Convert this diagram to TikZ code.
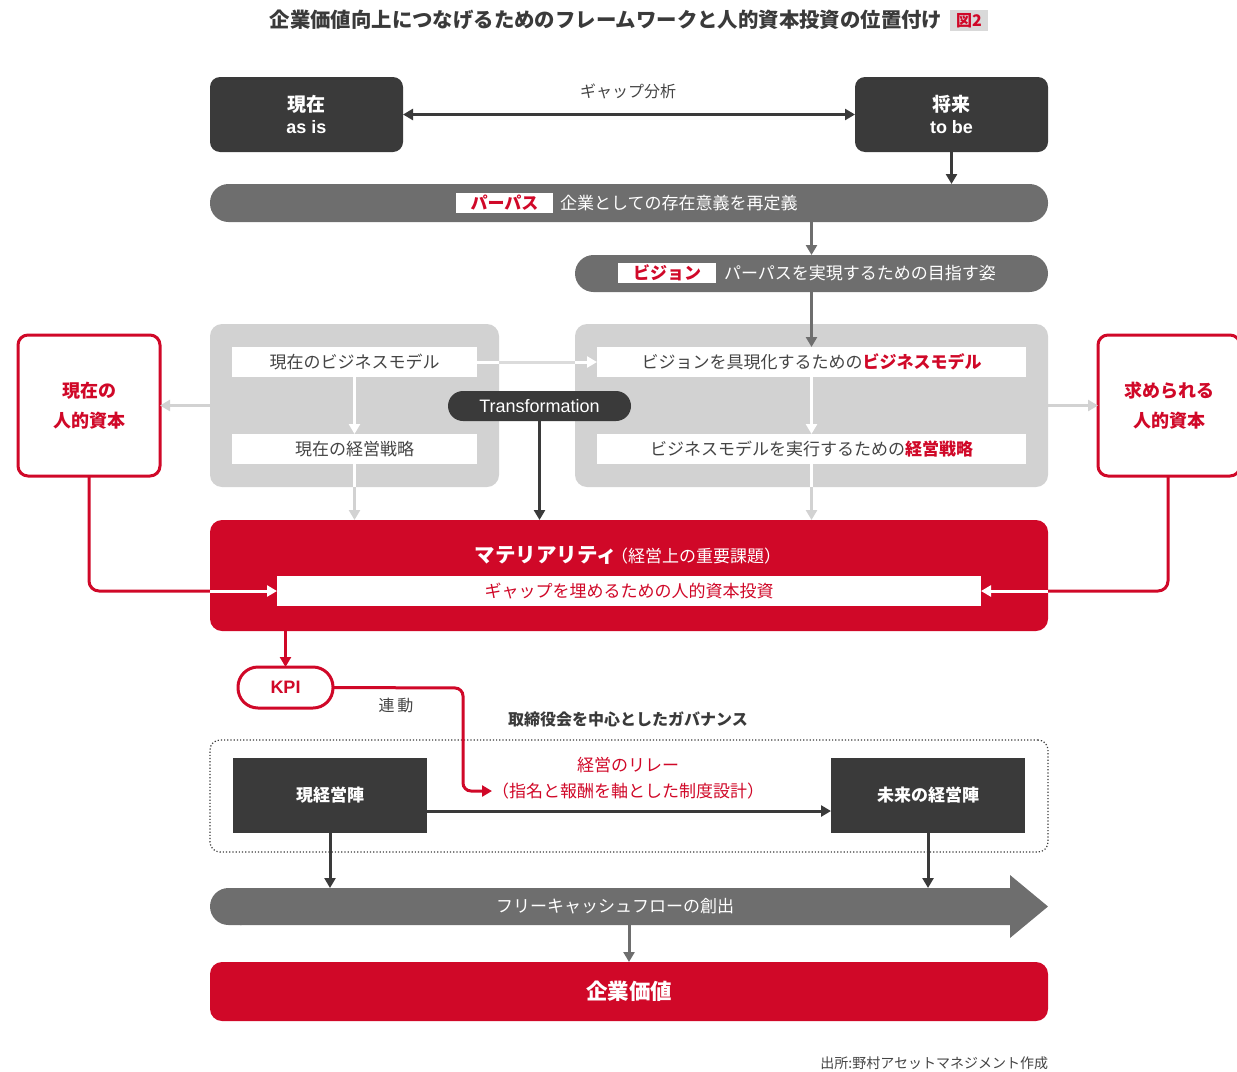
\documentclass[tikz,border=0pt]{standalone}
\usepackage{fontspec}
\setmainfont{Noto Sans CJK JP}
\newfontfamily\lat{Liberation Sans}
\usetikzlibrary{arrows.meta,calc}
\definecolor{dk}{HTML}{3A3A3A}
\definecolor{gb}{HTML}{6E6E6E}
\definecolor{pn}{HTML}{D2D2D2}
\definecolor{rd}{HTML}{D00828}
\definecolor{tx}{HTML}{444444}
\definecolor{bg}{HTML}{D9D9D9}
\begin{document}
\begin{tikzpicture}[x=1pt,y=-1pt,
  every node/.style={inner sep=0pt,outer sep=0pt},
  darkbox/.style={fill=dk,rounded corners=10pt,text=white,align=center,font=\bfseries\fontsize{19}{25}\selectfont},
  sqbox/.style={fill=dk,text=white,font=\bfseries\fontsize{17}{20}\selectfont},
  barbox/.style={fill=gb,rounded corners=18.5pt},
  tagbox/.style={fill=white,text=rd,font=\bfseries\fontsize{17}{20}\selectfont},
  bartext/.style={text=white,anchor=west,font=\fontsize{17}{20}\selectfont},
  panelbox/.style={fill=pn,rounded corners=12pt},
  wbox/.style={fill=white,text=tx,font=\fontsize{17}{20}\selectfont},
  redbox/.style={draw=rd,line width=3pt,fill=white,rounded corners=10pt,text=rd,align=center,font=\bfseries\fontsize{18}{30}\selectfont},
  redfill/.style={fill=rd,rounded corners=12pt},
  arr/.style={-{Triangle[length=10pt,width=11pt]},line width=3pt},
  lbl/.style={text=tx,font=\fontsize{16}{20}\selectfont}
]
\useasboundingbox (0,0) rectangle (1237,1071);
% title
\node[text=dk,font=\bfseries\fontsize{20.4}{24}\selectfont] (title) at (606,20) {企業価値向上につなげるためのフレームワークと人的資本投資の位置付け};
\node[fill=bg,text=rd,minimum width=38pt,minimum height=21pt,font=\bfseries\fontsize{16}{18}\selectfont] (badge) at (969,20.5) {図2};
% as is / to be
\node[darkbox,minimum width=193pt,minimum height=75pt] (now) at (306.5,114.5) {現在\\[-3pt]{\lat\bfseries\fontsize{18}{20}\selectfont as is}};
\node[darkbox,minimum width=193pt,minimum height=75pt] (tobe) at (951.5,114.5) {将来\\[-3pt]{\lat\bfseries\fontsize{18}{20}\selectfont to be}};
\node[lbl] (gaplbl) at (628,91) {ギャップ分析};
\draw[{Triangle[length=10pt,width=11pt]}-{Triangle[length=10pt,width=11pt]},line width=3pt,dk] (now.east) -- (tobe.west);
% purpose
\node[barbox,minimum width=838pt,minimum height=38pt] (purpose) at (629,203) {};
\node[tagbox,minimum width=97pt,minimum height=20pt] (ptag) at (504.5,203) {パーパス};
\node[bartext] (ptext) at (560,203) {企業としての存在意義を再定義};
\draw[arr,dk] (tobe.south) -- (tobe.south |- purpose.north);
% vision
\node[barbox,minimum width=473pt,minimum height=37pt] (vision) at (811.5,273.5) {};
\node[tagbox,minimum width=98pt,minimum height=20pt] (vtag) at (667,273) {ビジョン};
\node[bartext] (vtext) at (724,273) {パーパスを実現するための目指す姿};
\draw[arr,gb] (vision.north |- purpose.south) -- (vision.north);
% panels
\node[panelbox,minimum width=289pt,minimum height=163pt] (lpanel) at (354.5,405.5) {};
\node[panelbox,minimum width=473pt,minimum height=163pt] (rpanel) at (811.5,405.5) {};
\node[wbox,minimum width=245pt,minimum height=30pt] (lbm) at (354.5,362) {現在のビジネスモデル};
\node[wbox,minimum width=245pt,minimum height=30pt] (lst) at (354.5,449) {現在の経営戦略};
\node[wbox,minimum width=429pt,minimum height=30pt] (rbm) at (811.5,362) {ビジョンを具現化するための{\bfseries\color{rd}ビジネスモデル}};
\node[wbox,minimum width=429pt,minimum height=30pt] (rst) at (811.5,449) {ビジネスモデルを実行するための{\bfseries\color{rd}経営戦略}};
\draw[arr,gb] (vision.south) -- (rbm.north);
\draw[arr,white] (lbm.south) -- (lst.north);
\draw[arr,white] (rbm.south) -- (rst.north);
\draw[white,line width=3pt] (lbm.east) -- (lbm.east -| lpanel.east);
\draw[pn!80!white,line width=3pt] (lbm.east -| lpanel.east) -- (lbm.east -| rpanel.west);
\draw[arr,white] (lbm.east -| rpanel.west) -- (rbm.west);
% human capital boxes
\node[redbox,minimum width=142pt,minimum height=141pt] (lhc) at (89,405.5) {現在の\\人的資本};
\node[redbox,minimum width=142pt,minimum height=141pt] (rhc) at (1169,405.5) {求められる\\人的資本};
\draw[arr,pn] (lpanel.west) -- (lhc.east);
\draw[arr,pn] (rpanel.east) -- (rhc.west);
% materiality
\node[redfill,minimum width=838pt,minimum height=111pt] (mat) at (629,575.5) {};
\node[text=white] (mattitle) at (628,555) {{\bfseries\fontsize{20.5}{22}\selectfont マテリアリティ}\kern-6pt{\fontsize{17}{20}\selectfont （経営上の重要課題）}};
\node[fill=white,text=rd,minimum width=704pt,minimum height=30pt,font=\fontsize{17}{20}\selectfont] (gapbox) at (629,591) {ギャップを埋めるための人的資本投資};
\draw[white,line width=3pt] (lst.south) -- (lst.south |- lpanel.south);
\draw[arr,pn] (lst.south |- lpanel.south) -- (lst.south |- mat.north);
\draw[white,line width=3pt] (rst.south) -- (rst.south |- rpanel.south);
\draw[arr,pn] (rst.south |- rpanel.south) -- (rst.south |- mat.north);
% transformation
\node[fill=dk,text=white,rounded corners=15pt,minimum width=183pt,minimum height=30pt,font=\lat\fontsize{18}{20}\selectfont] (trans) at (539.5,406) {Transformation};
\draw[arr,dk] (trans.south) -- (trans.south |- mat.north);
% red links into gap box
\draw[rd,line width=3pt,rounded corners=10pt] (lhc.south) |- (mat.west |- gapbox.west);
\draw[arr,white] (mat.west |- gapbox.west) -- (gapbox.west);
\draw[rd,line width=3pt,rounded corners=10pt] (rhc.south -| 1168,0) |- (mat.east |- gapbox.east);
\draw[arr,white] (mat.east |- gapbox.east) -- (gapbox.east);
% KPI
\node[draw=rd,line width=3pt,fill=white,rounded corners=20pt,minimum width=95pt,minimum height=41pt,text=rd,font=\lat\bfseries\fontsize{18}{20}\selectfont] (kpi) at (285.5,687.5) {KPI};
\draw[arr,rd] (kpi.north |- mat.south) -- (kpi.north);
\node[lbl] (renlbl) at (396,705) {連\,動};
\node[text=dk,font=\bfseries\fontsize{16}{20}\selectfont] (govlbl) at (628,719) {取締役会を中心としたガバナンス};
% governance
\node[draw=dk,dotted,line width=1.2pt,rounded corners=10pt,minimum width=838pt,minimum height=112pt] (gov) at (629,796) {};
\node[sqbox,minimum width=194pt,minimum height=75pt] (cur) at (330,795.5) {現経営陣};
\node[sqbox,minimum width=194pt,minimum height=75pt] (fut) at (928,795.5) {未来の経営陣};
\node[text=rd,font=\fontsize{17}{20}\selectfont] (relay1) at (628,765) {経営のリレー};
\node[text=rd,font=\fontsize{17}{20}\selectfont] (relay2) at (628,791) {（指名と報酬を軸とした制度設計）};
\coordinate (kbend) at (463,688);
\draw[arr,rd,rounded corners=8pt] (kpi.east) -- (kbend) |- (relay2.west);
\draw[arr,dk] ($(cur.east)+(0,15.5)$) -- ($(fut.west)+(0,15.5)$);
% FCF arrow
\fill[gb,rounded corners=18.5pt] (260,888) -- (210,888) -- (210,925) -- (260,925) -- cycle;
\fill[gb] (240,888) -- (1010,888) -- (1010,875) -- (1048,906.5) -- (1010,938) -- (1010,925) -- (240,925) -- cycle;
\node[minimum width=800pt,minimum height=37pt,text=white,font=\fontsize{17}{20}\selectfont] (fcf) at (615,906.5) {フリーキャッシュフローの創出};
\draw[arr,dk] (cur.south) -- (cur.south |- fcf.north);
\draw[arr,dk] (fut.south) -- (fut.south |- fcf.north);
% value
\node[redfill,minimum width=838pt,minimum height=59pt,text=white,font=\bfseries\fontsize{21.5}{24}\selectfont] (value) at (629,991.5) {企業価値};
\draw[arr,gb] (value.north |- fcf.south) -- (value.north);
% source
\node[text=tx,anchor=east,font=\fontsize{14}{16}\selectfont] (src) at (1048,1063) {出所:野村アセットマネジメント作成};
\end{tikzpicture}
\end{document}
